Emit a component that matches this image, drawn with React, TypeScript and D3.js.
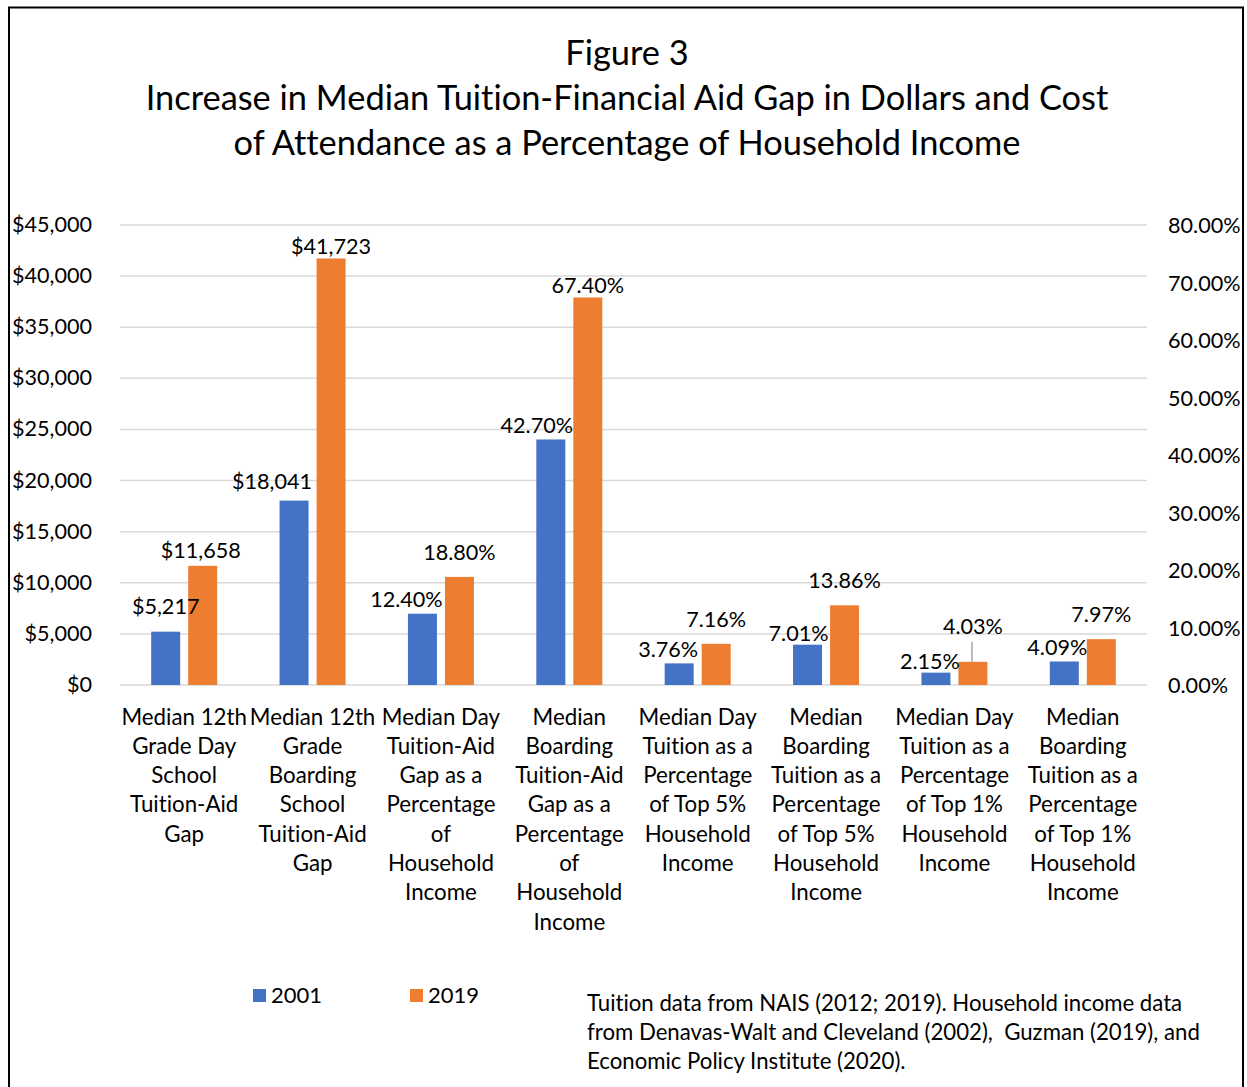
import React from "react";
import * as d3 from "d3";

const titleLines = [
  "Figure 3",
  "Increase in Median Tuition-Financial Aid Gap in Dollars and Cost",
  "of Attendance as a Percentage of Household Income",
];

const categoryLines: string[][] = [
  ["Median 12th", "Grade Day", "School", "Tuition-Aid", "Gap"],
  ["Median 12th", "Grade", "Boarding", "School", "Tuition-Aid", "Gap"],
  ["Median Day", "Tuition-Aid", "Gap as a", "Percentage", "of", "Household", "Income"],
  ["Median", "Boarding", "Tuition-Aid", "Gap as a", "Percentage", "of", "Household", "Income"],
  ["Median Day", "Tuition as a", "Percentage", "of Top 5%", "Household", "Income"],
  ["Median", "Boarding", "Tuition as a", "Percentage", "of Top 5%", "Household", "Income"],
  ["Median Day", "Tuition as a", "Percentage", "of Top 1%", "Household", "Income"],
  ["Median", "Boarding", "Tuition as a", "Percentage", "of Top 1%", "Household", "Income"],
];

// which axis each category uses: "usd" = left, "pct" = right
const categoryAxis = ["usd", "usd", "pct", "pct", "pct", "pct", "pct", "pct"];

const values2001 = [5217, 18041, 12.4, 42.7, 3.76, 7.01, 2.15, 4.09];
const values2019 = [11658, 41723, 18.8, 67.4, 7.16, 13.86, 4.03, 7.97];

const seriesNames = ["2001", "2019"];
const seriesColors = ["#4472C4", "#ED7D31"];

const leftTicks = [0, 5000, 10000, 15000, 20000, 25000, 30000, 35000, 40000, 45000];
const rightTicks = [0, 10, 20, 30, 40, 50, 60, 70, 80];

// label nudges (dx, dy) relative to default placement above bar
const labelNudge2001: [number, number][] = [
  [0, -14], [-22, -8], [-16, -3], [-14, -2], [-11, -2], [-9, 0], [-6, 0], [-7, -2],
];
const labelNudge2019: [number, number][] = [
  [-2, -4], [0, 0], [0, -13], [0, 0], [0, -13], [0, -13], [0, -24], [0, -13],
];

const footnoteLines = [
  "Tuition data from NAIS (2012; 2019). Household income data",
  "from Denavas-Walt and Cleveland (2002),  Guzman (2019), and",
  "Economic Policy Institute (2020).",
];

const W = 1247;
const H = 1087;
const FONT = "Lato, 'Open Sans', sans-serif";

export default function App() {
  const plotLeft = 120;
  const plotRight = 1147;
  const plotTop = 225;
  const plotBottom = 685;

  const x = d3
    .scaleBand<number>()
    .domain(d3.range(categoryLines.length))
    .range([plotLeft, plotRight]);
  const yL = d3.scaleLinear().domain([0, 45000]).range([plotBottom, plotTop]);
  const yR = d3.scaleLinear().domain([0, 80]).range([plotBottom, plotTop]);

  const barW = 29;
  const gap = 8;

  const fmtUsd = (v: number) => "$" + d3.format(",")(v);
  const fmtPct = (v: number) => d3.format(".2f")(v) + "%";

  const series = [values2001, values2019];
  const nudges = [labelNudge2001, labelNudge2019];

  return (
    <svg
      width={W}
      height={H}
      style={{
        position: "absolute",
        left: 0,
        top: 0,
        background: "#fff",
        fontVariantLigatures: "none",
      }}
      fontFamily={FONT}
    >
      <rect x={0} y={0} width={W} height={H} fill="#fff" />
      <rect x={9} y={7.5} width={1234} height={1100} fill="none" stroke="#000" strokeWidth={2} />

      {titleLines.map((t, i) => (
        <text
          key={i}
          x={627}
          y={51 + i * 45}
          textAnchor="middle"
          dominantBaseline="central"
          fontSize={34.4}
          fill="#000"
        >
          {t}
        </text>
      ))}

      {/* gridlines */}
      {leftTicks.map((t) => (
        <line
          key={t}
          x1={plotLeft}
          x2={plotRight}
          y1={yL(t)}
          y2={yL(t)}
          stroke="#d9d9d9"
          strokeWidth={1.5}
        />
      ))}

      {/* left ticks */}
      {leftTicks.map((t) => (
        <text
          key={"l" + t}
          x={92}
          y={yL(t) - 1}
          textAnchor="end"
          dominantBaseline="central"
          fontSize={21.6}
        >
          {fmtUsd(t)}
        </text>
      ))}
      {/* right ticks */}
      {rightTicks.map((t) => (
        <text
          key={"r" + t}
          x={1168}
          y={yR(t)}
          textAnchor="start"
          dominantBaseline="central"
          fontSize={21.6}
        >
          {fmtPct(t)}
        </text>
      ))}

      {/* bars */}
      {series.map((vals, s) =>
        vals.map((v, i) => {
          const c = x(i)! + x.bandwidth() / 2;
          const bx = s === 0 ? c - gap / 2 - barW : c + gap / 2;
          const y = categoryAxis[i] === "usd" ? yL : yR;
          return (
            <rect
              key={s + "-" + i}
              x={bx}
              y={y(v)}
              width={barW}
              height={plotBottom - y(v)}
              fill={seriesColors[s]}
            />
          );
        })
      )}

      {/* bar labels */}
      {series.map((vals, s) =>
        vals.map((v, i) => {
          const c = x(i)! + x.bandwidth() / 2;
          const bc = s === 0 ? c - gap / 2 - barW / 2 : c + gap / 2 + barW / 2;
          const y = categoryAxis[i] === "usd" ? yL : yR;
          const [dx, dy] = nudges[s][i];
          const ly = y(v) - 12 + dy;
          const label = categoryAxis[i] === "usd" ? fmtUsd(v) : fmtPct(v);
          return (
            <g key={"lab" + s + "-" + i}>
              {dy <= -20 && (
                <line
                  x1={bc - 1}
                  x2={bc - 1}
                  y1={ly + 16}
                  y2={y(v)}
                  stroke="#a6a6a6"
                  strokeWidth={1.5}
                />
              )}
              <text
                x={bc + dx}
                y={ly}
                textAnchor="middle"
                dominantBaseline="central"
                fontSize={21.6}
              >
                {label}
              </text>
            </g>
          );
        })
      )}

      {/* category labels */}
      {categoryLines.map((lines, i) => {
        const c = x(i)! + x.bandwidth() / 2;
        return lines.map((ln, j) => (
          <text
            key={"c" + i + "-" + j}
            x={c}
            y={716 + j * 29.3}
            textAnchor="middle"
            dominantBaseline="central"
            fontSize={22.3}
          >
            {ln}
          </text>
        ));
      })}

      {/* legend */}
      {seriesNames.map((n, s) => (
        <g key={"lg" + n} transform={`translate(${253 + s * 157},989)`}>
          <rect x={0} y={0} width={13} height={13} fill={seriesColors[s]} />
          <text x={18} y={5.5} dominantBaseline="central" fontSize={22}>
            {n}
          </text>
        </g>
      ))}

      {/* footnote */}
      {footnoteLines.map((t, i) => (
        <text
          key={"f" + i}
          x={587}
          y={1002 + i * 29}
          dominantBaseline="central"
          fontSize={22.2}
          style={{ whiteSpace: "pre" }}
        >
          {t}
        </text>
      ))}
    </svg>
  );
}
